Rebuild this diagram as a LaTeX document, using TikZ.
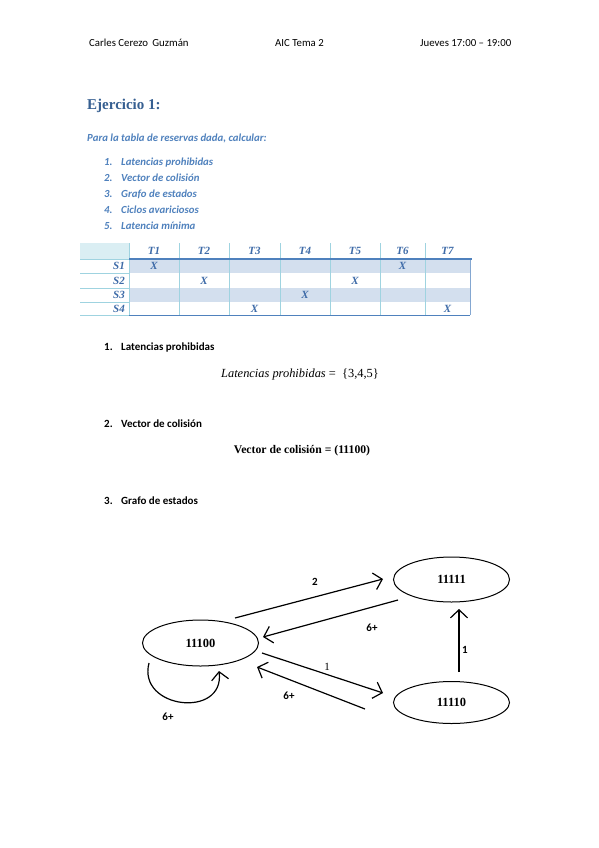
\documentclass[tikz,border=0pt]{standalone}
\usepackage{fontspec}
\setmainfont{Carlito}
\newfontfamily\serifcam{Liberation Serif}
\usetikzlibrary{arrows.meta,shapes.geometric,calc}
\definecolor{titleblue}{HTML}{365F91}
\definecolor{accblue}{HTML}{4F81BD}
\definecolor{tabtext}{HTML}{3E6BA8}
\definecolor{hdrfill}{HTML}{DAEEF3}
\definecolor{rowfill}{HTML}{D3DFEE}
\definecolor{gridline}{HTML}{9FD3E0}
\begin{document}
\begin{tikzpicture}[x=1pt,y=-1pt,
  hdr/.style={anchor=base west,inner sep=0pt,font=\fontsize{10.8}{12}\selectfont},
  listtxt/.style={anchor=base west,inner sep=0pt,text=accblue,font=\fontsize{10.8}{12}\selectfont\bfseries\itshape},
  sect/.style={anchor=base west,inner sep=0pt,font=\fontsize{11}{12}\selectfont\bfseries},
  cell/.style={inner sep=0pt,text=tabtext,font=\serifcam\fontsize{11}{12}\selectfont\bfseries\itshape},
  state/.style={draw,ellipse,line width=1pt,inner sep=0pt,font=\serifcam\fontsize{12.5}{14}\selectfont\bfseries},
  edge/.style={line width=1.2pt,-{Straight Barb[length=8pt,width=17pt,line width=1.2pt]}},
  elab/.style={inner sep=0pt,font=\fontsize{11}{12}\selectfont\bfseries}]
\fill[white] (0,0) rectangle (599,848);
\useasboundingbox (0,0) rectangle (599,848);
% header
\node[hdr] (h1) at (89,47) {Carles Cerezo\, Guzmán};
\node[hdr] (h2) at (275,47) {AIC Tema 2};
\node[hdr] (h3) at (420,47) {Jueves 17:00 -- 19:00};
% title
\node[anchor=base west,inner sep=0pt,text=titleblue,font=\serifcam\fontsize{15}{17}\selectfont\bfseries] (title) at (87,110) {Ejercicio 1:};
\node[listtxt] (intro) at (87,142) {Para la tabla de reservas dada, calcular:};
\foreach \i/\t [count=\k] in {1/Latencias prohibidas,2/Vector de colisión,3/Grafo de estados,4/Ciclos avariciosos,5/Latencia mínima}{
  \node[listtxt] (ln\k) at (104,{165.5+16*(\k-1)}) {\i.};
  \node[listtxt] (lt\k) at (121,{165.5+16*(\k-1)}) {\t};
}
% table
\fill[hdrfill] (80,243) rectangle (129,259);
\fill[rowfill] (129,259) rectangle (470,273);
\fill[rowfill] (129,288) rectangle (470,302);
\foreach \yy in {259,273,288,302,315}{\draw[gridline,line width=0.6pt] (80,\yy) -- (129,\yy);}
\foreach \xx in {129,179,229,280,330,380,425}{\draw[gridline,line width=0.7pt] (\xx,243) -- (\xx,315);}
\draw[accblue!70,line width=0.7pt] (470,259) -- (470,315);
\draw[accblue,line width=0.8pt] (129,315) -- (470,315);
\draw[accblue,line width=1.8pt] (129,259) -- (472,259);
\node[cell] (t1) at (154,251) {T1};
\node[cell] (t2) at (204,251) {T2};
\node[cell] (t3) at (254.5,251) {T3};
\node[cell] (t4) at (305,251) {T4};
\node[cell] (t5) at (355,251) {T5};
\node[cell] (t6) at (402.5,251) {T6};
\node[cell] (t7) at (447.5,251) {T7};
\node[cell,anchor=east] (s1) at (125,266) {S1};
\node[cell,anchor=east] (s2) at (125,280.5) {S2};
\node[cell,anchor=east] (s3) at (125,295) {S3};
\node[cell,anchor=east] (s4) at (125,308.5) {S4};
\node[cell] (x11) at (154,266) {X};
\node[cell] (x16) at (402.5,266) {X};
\node[cell] (x22) at (204,280.5) {X};
\node[cell] (x25) at (355,280.5) {X};
\node[cell] (x34) at (305,295) {X};
\node[cell] (x43) at (254.5,308.5) {X};
\node[cell] (x47) at (447.5,308.5) {X};
% sections
\node[sect] (n1) at (104,350.5) {1.};
\node[sect] (s1t) at (121,350.5) {Latencias prohibidas};
\node[anchor=base,inner sep=0pt,font=\serifcam\fontsize{12.4}{14}\selectfont] (f1) at (300,377) {\textit{Latencias prohibidas} = \ \{3,4,5\}};
\node[sect] (n2) at (104,427.5) {2.};
\node[sect] (s2t) at (121,427.5) {Vector de colisión};
\node[anchor=base,inner sep=0pt,font=\serifcam\fontsize{11.7}{13}\selectfont\bfseries] (f2) at (302,453) {Vector de colisión = (11100)};
\node[sect] (n3) at (104,504.5) {3.};
\node[sect] (s3t) at (121,504.5) {Grafo de estados};
% graph
\node[state,minimum width=116pt,minimum height=46pt] (a) at (200.5,643) {11100};
\node[state,minimum width=116pt,minimum height=45pt] (b) at (451.5,579.5) {11111};
\node[state,minimum width=116pt,minimum height=42pt] (c) at (451.5,702.5) {11110};
\coordinate (e1s) at ($(a.center)+(34.5,-25)$);
\coordinate (e1e) at ($(b.center)+(-68.5,-0.5)$);
\coordinate (e2s) at ($(b.center)+(-53.5,20.5)$);
\coordinate (e2e) at ($(a.center)+(62.5,-6)$);
\coordinate (e3s) at ($(a.center)+(61.5,10)$);
\coordinate (e3e) at ($(c.center)+(-68.5,-9.5)$);
\coordinate (e4s) at ($(c.center)+(-86.5,6.5)$);
\coordinate (e4e) at ($(a.center)+(56.5,24)$);
\coordinate (e5s) at ($(c.center)+(7.5,-30.5)$);
\coordinate (e5e) at ($(b.center)+(7.5,29.5)$);
\coordinate (ls) at ($(a.center)+(-51.5,20)$);
\coordinate (le) at ($(a.center)+(18.5,28)$);
\draw[edge] (e1s) -- (e1e);
\draw[edge] (e2s) -- (e2e);
\draw[edge] (e3s) -- (e3e);
\draw[edge] (e4s) -- (e4e);
\draw[edge] (e5s) -- (e5e);
\draw[edge] (ls) .. controls ($(ls)+(-12,46)$) and ($(le)+(6,48)$) .. (le);
\node[elab] (l2) at (315,582) {2};
\node[elab] (l6a) at (372,628) {6+};
\node[inner sep=0pt,font=\serifcam\fontsize{11}{12}\selectfont] (l1a) at (327,667) {1};
\node[elab] (l6b) at (289,696) {6+};
\node[elab] (l1b) at (465,650) {1};
\node[elab] (l6c) at (168,717) {6+};
\end{tikzpicture}
\end{document}
